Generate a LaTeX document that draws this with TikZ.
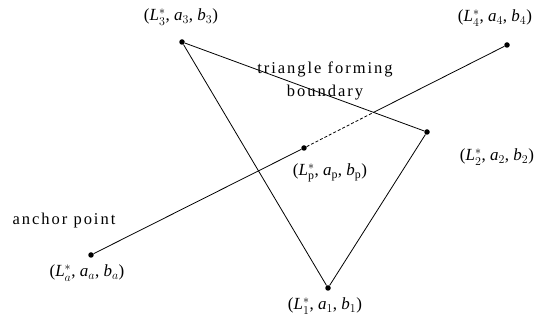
\documentclass[tikz,border=0pt]{standalone}
\usepackage{fontspec}
\setmainfont{Liberation Serif}
\newfontfamily\spacedfont[LetterSpace=12]{Liberation Serif}
\newcommand\tri[3]{(\textit{#1}$^{*}_{#2}$, \textit{a}$_{#2}$, \textit{b}$_{#2}$)}
\begin{document}
\begin{tikzpicture}[x=1pt,y=-1pt,
  pt/.style={circle,fill=black,inner sep=0pt,minimum size=5.5pt},
  lab/.style={font=\fontsize{17}{19}\selectfont,inner sep=0pt},
  txt/.style={font=\spacedfont\fontsize{16.5}{23}\selectfont,inner sep=0pt,align=center},
  ln/.style={line width=0.8pt}]
\useasboundingbox (0,0) rectangle (542,320);
\node[pt] (P3) at (182,42) {};
\node[pt] (P4) at (507,45) {};
\node[pt] (P2) at (427,132) {};
\node[pt] (Pp) at (304,148) {};
\node[pt] (Pa) at (91,255) {};
\node[pt] (P1) at (328,288) {};
\coordinate (X) at (intersection of P3--P2 and Pa--P4);
\draw[ln] (P3) -- (P2) -- (P1) -- (P3);
\draw[ln] (Pa) -- (Pp);
\draw[ln,dash pattern=on 3pt off 2pt] (Pp) -- (X);
\draw[ln] (X) -- (P4);
\node[lab] (l3) at (181,17) {\tri{L}{3}{}};
\node[lab] (l4) at (495,18) {\tri{L}{4}{}};
\node[lab] (l2) at (497,157) {\tri{L}{2}{}};
\node[lab] (lp) at (330,173) {\tri{L}{\mathrm{p}}{}};
\node[lab] (la) at (87,273) {\tri{L}{a}{}};
\node[lab] (l1) at (325,306) {\tri{L}{1}{}};
\node[txt] (tf) at (325,81) {triangle forming\\boundary};
\node[txt] (ap) at (64,221) {anchor point};
\end{tikzpicture}
\end{document}
